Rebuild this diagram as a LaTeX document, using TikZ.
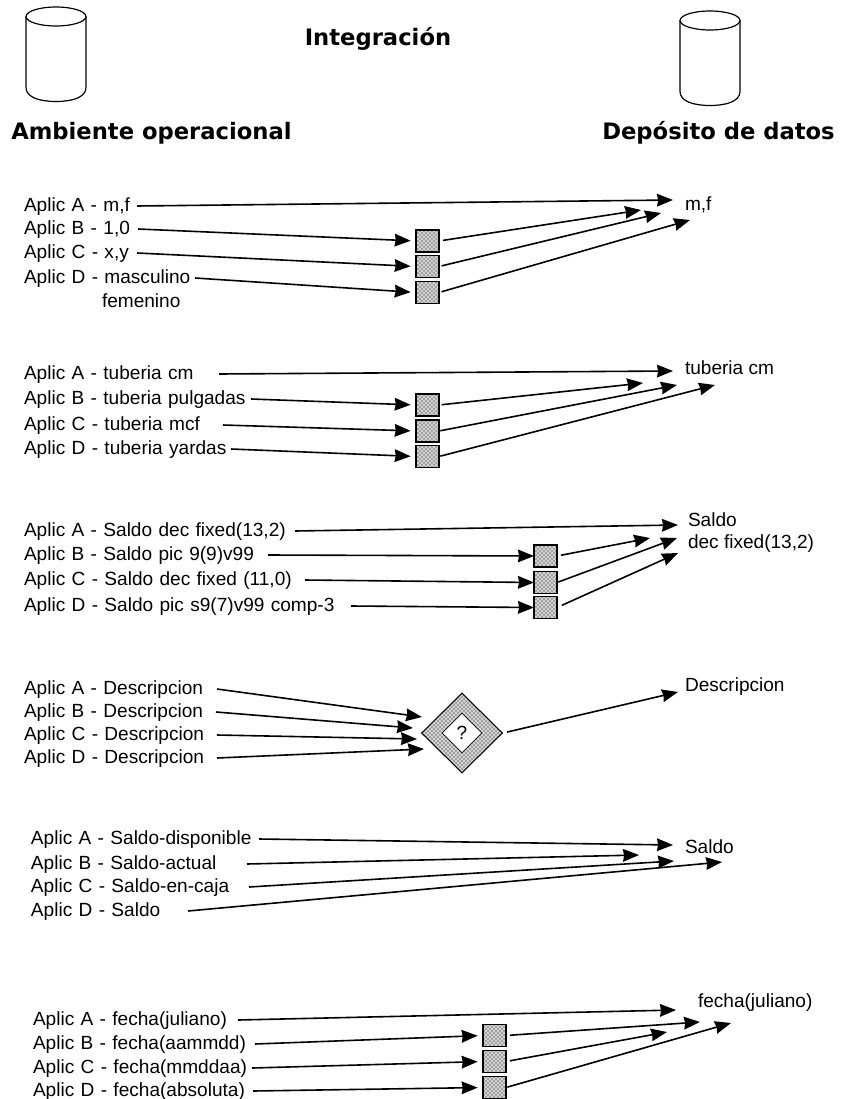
\documentclass[tikz,border=0pt]{standalone}
\usepackage{fontspec}
\setmainfont{Liberation Sans}
\newfontfamily\headfont{DejaVu Sans}
\usetikzlibrary{arrows.meta,patterns,shapes.geometric}
\tikzset{
  lab/.style={anchor=west,inner sep=0pt,outer sep=0pt,align=left,font=\fontsize{14.3}{15}\selectfont,text height=10.5pt,text depth=2.3pt},
  tgt/.style={anchor=west,inner sep=0pt,outer sep=0pt,font=\fontsize{14.3}{15}\selectfont},
  head/.style={inner sep=0pt,font=\headfont\bfseries\fontsize{17}{20}\selectfont},
  conv/.style={draw=black,line width=1.2pt,preaction={fill=gray!35},pattern=crosshatch dots,pattern color=black,minimum width=17.25pt,minimum height=16.25pt,inner sep=0pt,outer sep=0pt},
  arr/.style={line width=1.2pt,-{Stealth[length=12pt,width=9.5pt,inset=0.8pt]}},
  cyl/.style={line width=0.9pt}
}
\newcommand{\lbl}[5]{\node[lab,text width=\dimexpr(#4pt-#2pt)*3/4\relax] (#1) at (#2,#3+2) {\mbox{#5}};}
\newcommand{\cylinder}[3]{%
  \draw[cyl] (#1+30,#2) ellipse [x radius=30,y radius=9.5];
  \draw[cyl] (#1,#2) -- (#1,#2+71) .. controls (#1,#2+81) and (#1+14,#2+85) .. (#1+30,#2+85)
     .. controls (#1+46,#2+85) and (#1+60,#2+81) .. (#1+60,#2+71) -- (#1+60,#2);}
\begin{document}
\begin{tikzpicture}[x=0.75pt,y=-0.75pt]
\useasboundingbox (0,0) rectangle (840,1099);
% header
\cylinder{26}{16.5}{}
\cylinder{680}{20.5}{}
\node[head] (title) at (378,39) {Integración};
\node[head,anchor=west] (amb) at (11,133) {Ambiente operacional};
\node[head,anchor=east] (dep) at (835,133) {Depósito de datos};

% group 1
\lbl{a1}{24}{204}{137}{Aplic A - m,f}
\lbl{b1}{24}{227}{138}{Aplic B - 1,0}
\lbl{c1}{24}{251}{137}{Aplic C - x,y}
\lbl{d1}{24}{276}{195}{Aplic D - masculino}
\node[lab] (d1b) at (102,302) {femenino};
\node[tgt] (t1) at (685,205) {m,f};
\node[conv] (x1) at (427.5,241) {};
\node[conv] (y1) at (427.5,266.5) {};
\node[conv] (z1) at (427.5,292.5) {};
\coordinate (t1a) at (673,200);
\coordinate (t1b) at (641,210);
\coordinate (t1c) at (661,213);
\coordinate (t1d) at (690,220);
\draw[arr] (a1.east) -- (t1a);
\draw[arr,shorten >=4pt] (b1.east) -- (x1.west);
\draw[arr,shorten >=4pt] (c1.east) -- (y1.west);
\draw[arr,shorten >=4pt] (d1.east) -- (z1.west);
\draw[arr,shorten <=3pt] (x1.east) -- (t1b);
\draw[arr,shorten <=2pt] (y1.east) -- (t1c);
\draw[arr,shorten <=2pt] (z1.east) -- (t1d);

% group 2
\lbl{a2}{24}{372}{219}{Aplic A - tuberia cm}
\lbl{b2}{24}{397}{251}{Aplic B - tuberia pulgadas}
\lbl{c2}{24}{423}{223}{Aplic C - tuberia mcf}
\lbl{d2}{24}{447}{231}{Aplic D - tuberia yardas}
\node[tgt] (t2) at (685,368) {tuberia cm};
\node[conv] (x2) at (427.5,405) {};
\node[conv] (y2) at (427.5,431) {};
\node[conv] (z2) at (427.5,456.5) {};
\coordinate (t2a) at (673,371);
\coordinate (t2b) at (643,383);
\coordinate (t2c) at (677,385);
\coordinate (t2d) at (715,385);
\draw[arr] (a2.east) -- (t2a);
\draw[arr,shorten >=4pt] (b2.east) -- (x2.west);
\draw[arr,shorten >=4pt] (c2.east) -- (y2.west);
\draw[arr,shorten >=4pt] (d2.east) -- (z2.west);
\draw[arr,shorten <=2pt] (x2.east) -- (t2b);
\draw[arr,shorten <=1pt] (y2.east) -- (t2c);
\draw[arr,shorten <=1pt] (z2.east) -- (t2d);

% group 3
\lbl{a3}{24}{529}{295}{Aplic A - Saldo dec fixed(13,2)}
\lbl{b3}{24}{553}{268}{Aplic B - Saldo pic 9(9)v99}
\lbl{c3}{24}{578}{305}{Aplic C - Saldo dec fixed (11,0)}
\lbl{d3}{24}{604}{351}{Aplic D - Saldo pic s9(7)v99 comp-3}
\node[tgt] (t3) at (688,520) {Saldo};
\node[tgt] (t3b) at (688,544) {dec fixed(13,2)};
\node[conv] (x3) at (545.5,556) {};
\node[conv] (y3) at (545.5,582.5) {};
\node[conv] (z3) at (545.5,607.5) {};
\coordinate (t3a) at (678,525);
\coordinate (t3e) at (650,538);
\coordinate (t3c) at (677,538);
\coordinate (t3d) at (678,553);
\draw[arr] (a3.east) -- (t3a);
\draw[arr] (b3.east) -- (x3.west);
\draw[arr] (c3.east) -- (y3.west);
\draw[arr] (d3.east) -- (z3.west);
\draw[arr,shorten <=3pt] (x3.east) -- (t3e);
\draw[arr,shorten <=1pt] (y3.east) -- (t3c);
\draw[arr,shorten <=4pt] (z3.east) -- (t3d);

% group 4
\lbl{a4}{24}{687}{217}{Aplic A - Descripcion}
\lbl{b4}{24}{710}{216}{Aplic B - Descripcion}
\lbl{c4}{24}{733}{217}{Aplic C - Descripcion}
\lbl{d4}{24}{756}{217}{Aplic D - Descripcion}
\node[tgt] (t4) at (685,687) {Descripcion};
\node[diamond,shape aspect=1,draw=black,preaction={fill=gray!35},pattern=crosshatch dots,pattern color=black,line width=0.8pt,minimum width=60.75pt,minimum height=60pt,inner sep=0pt] (q) at (462,733) {};
\node[diamond,shape aspect=1,draw=black,fill=white,line width=0.6pt,minimum width=30pt,minimum height=30pt,inner sep=0pt,font=\fontsize{14.3}{15}\selectfont] (q2) at (q.center) {?};
\coordinate (t4a) at (422,717);
\coordinate (t4b) at (413,728);
\coordinate (t4c) at (417,739);
\coordinate (t4d) at (424,749);
\coordinate (t4e) at (678,692);
\draw[arr] (a4.east) -- (t4a);
\draw[arr] (b4.east) -- (t4b);
\draw[arr] (c4.east) -- (t4c);
\draw[arr] (d4.east) -- (t4d);
\draw[arr,shorten <=3pt] (q.east) -- (t4e);

% group 5
\lbl{a5}{31}{837}{259}{Aplic A - Saldo-disponible}
\lbl{b5}{31}{862}{247}{Aplic B - Saldo-actual}
\lbl{c5}{31}{885}{249}{Aplic C - Saldo-en-caja}
\lbl{d5}{31}{909}{188}{Aplic D - Saldo}
\node[tgt] (t5) at (685,847) {Saldo};
\coordinate (t5a) at (673,845);
\coordinate (t5b) at (639,855);
\coordinate (t5c) at (674,861);
\coordinate (t5d) at (722,862);
\draw[arr] (a5.east) -- (t5a);
\draw[arr] (b5.east) -- (t5b);
\draw[arr] (c5.east) -- (t5c);
\draw[arr] (d5.east) -- (t5d);

% group 6
\lbl{a6}{33}{1018}{238}{Aplic A - fecha(juliano)}
\lbl{b6}{33}{1042}{255}{Aplic B - fecha(aammdd)}
\lbl{c6}{33}{1066}{252}{Aplic C - fecha(mmddaa)}
\lbl{d6}{33}{1089}{253}{Aplic D - fecha(absoluta)}
\node[tgt] (t6) at (698,1003) {fecha(juliano)};
\node[conv] (x6) at (494.5,1035.5) {};
\node[conv] (y6) at (494.5,1061.5) {};
\node[conv] (z6) at (494.5,1087.5) {};
\coordinate (t6a) at (676,1010);
\coordinate (t6b) at (700,1022);
\coordinate (t6c) at (667,1032);
\coordinate (t6d) at (731,1023);
\draw[arr] (a6.east) -- (t6a);
\draw[arr,shorten >=4pt] (b6.east) -- (x6.west);
\draw[arr,shorten >=4pt] (c6.east) -- (y6.west);
\draw[arr,shorten >=4pt] (d6.east) -- (z6.west);
\draw[arr,shorten <=3pt] (x6.east) -- (t6b);
\draw[arr,shorten <=3pt] (y6.east) -- (t6c);
\draw[arr,shorten <=1pt] (z6.east) -- (t6d);
\end{tikzpicture}
\end{document}
